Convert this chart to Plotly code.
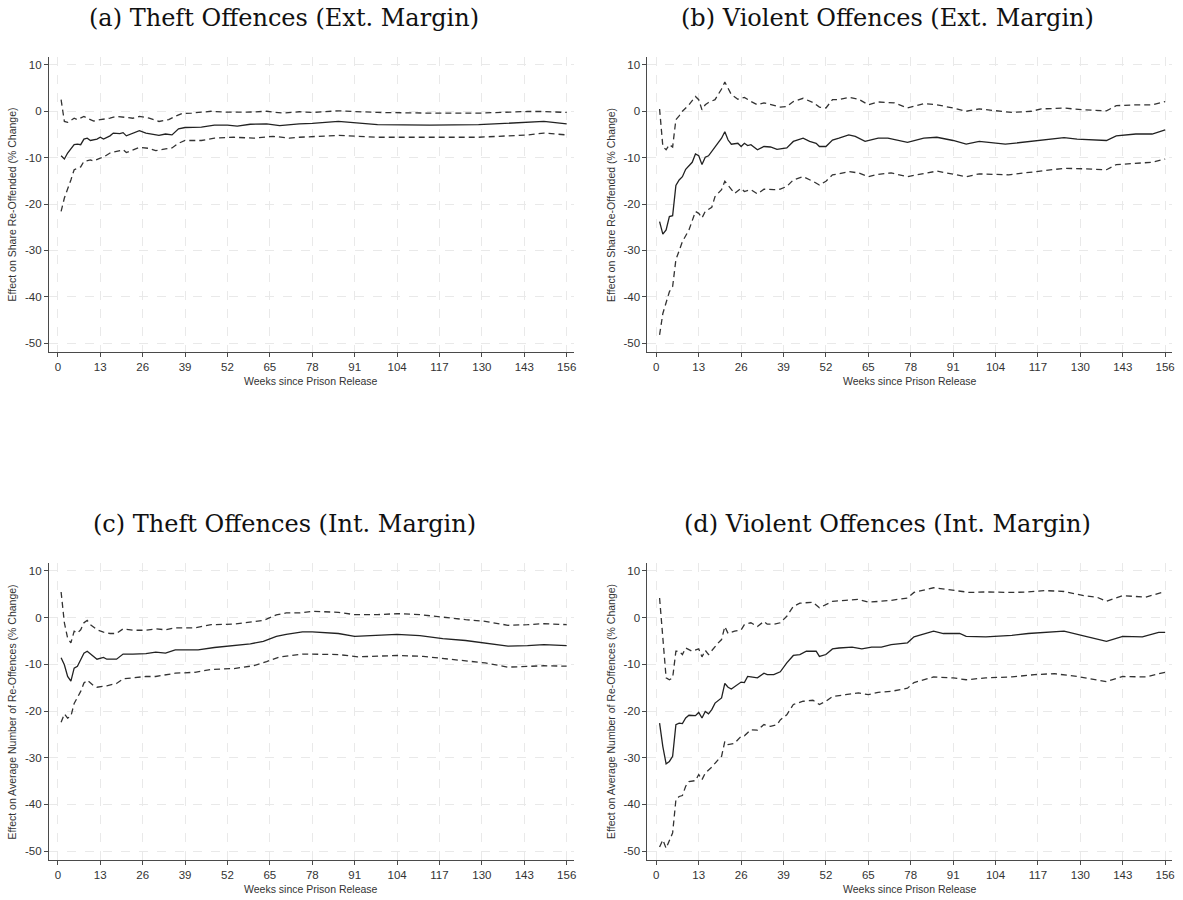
import plotly.graph_objects as go

# ---------------- data ----------------
x_ticks = [0, 13, 26, 39, 52, 65, 78, 91, 104, 117, 130, 143, 156]
y_ticks = [-50, -40, -30, -20, -10, 0, 10]

titles = ["(a) Theft Offences (Ext. Margin)", "(b) Violent Offences (Ext. Margin)",
          "(c) Theft Offences (Int. Margin)", "(d) Violent Offences (Int. Margin)"]
y_titles = ["Effect on Share Re-Offended (% Change)", "Effect on Share Re-Offended (% Change)",
            "Effect on Average Number of Re-Offences (% Change)", "Effect on Average Number of Re-Offences (% Change)"]
x_title = "Weeks since Prison Release"

# Panel (a)
a_mid_w = [1,2,3,5,6,7,8,9,10,12,13,14,16,17,19,20,21,23,25,27,31,33,35,37,39,44,48,52,55,59,64,68,74,78,86,98,114,129,141,149,156]
a_mid_v = [-9.6,-10.3,-9.0,-7.2,-7.1,-7.2,-6.0,-5.8,-6.3,-6.0,-5.6,-6.0,-5.3,-4.7,-4.8,-4.6,-5.3,-4.7,-4.2,-4.7,-5.2,-4.9,-5.1,-3.8,-3.5,-3.4,-3.0,-3.0,-3.2,-2.8,-2.7,-3.1,-2.7,-2.6,-2.2,-2.9,-3.0,-2.9,-2.55,-2.2,-2.7]
a_hi_w = [1,2,3,5,6,8,9,11,13,16,18,20,23,25,28,31,34,36,38,41,47,52,58,64,69,74,78,86,98,114,129,144,149,156]
a_hi_v = [2.5,-2.2,-2.4,-1.5,-1.8,-1.1,-1.5,-2.1,-1.8,-1.5,-1.1,-1.3,-1.5,-1.1,-1.5,-2.2,-1.8,-1.1,-0.5,-0.4,0.0,-0.2,-0.2,0.0,-0.4,-0.1,-0.26,0.1,-0.26,-0.4,-0.4,-0.05,-0.05,-0.26]
a_lo_w = [1,2,4,5,7,8,10,11,13,14,16,18,20,21,23,25,28,30,33,35,37,39,44,48,54,60,66,71,74,86,98,114,129,144,149,156]
a_lo_v = [-21.6,-18.7,-14.8,-12.6,-12.0,-10.8,-10.5,-10.7,-10.1,-9.9,-9.0,-8.7,-8.3,-8.9,-8.3,-7.8,-8.0,-8.5,-8.1,-7.9,-6.9,-6.3,-6.3,-5.8,-5.6,-5.8,-5.4,-5.8,-5.6,-5.2,-5.6,-5.6,-5.6,-5.1,-4.7,-5.1]

# Panel (b)
b_mid_w = [1,2,3,4,5,6,7,8,9,11,12,13,14,15,16,17,19,20,21,22,23,25,26,27,28,29,31,33,35,37,40,42,45,47,49,50,52,54,56,59,61,64,68,71,77,82,86,91,95,99,107,115,121,125,129,138,141,147,152,156]
b_mid_v = [-23.8,-26.5,-25.6,-22.7,-22.5,-16.0,-14.8,-14.1,-12.5,-11.0,-9.2,-9.6,-11.5,-9.9,-9.6,-8.7,-6.7,-5.8,-4.4,-6.2,-7.1,-6.9,-7.6,-6.9,-7.4,-7.2,-8.3,-7.6,-7.7,-8.2,-7.9,-6.5,-5.8,-6.5,-6.9,-7.6,-7.6,-6.2,-5.8,-5.1,-5.4,-6.5,-5.8,-5.8,-6.7,-5.8,-5.6,-6.3,-7.1,-6.5,-7.1,-6.5,-6.0,-5.7,-6.0,-6.3,-5.3,-4.9,-4.9,-4.0]
b_hi_w = [1,2,3,4,5,6,7,8,10,12,13,14,15,16,18,20,21,23,25,27,29,31,33,35,38,40,42,45,48,50,52,54,56,59,62,65,68,73,77,82,86,91,95,99,109,115,118,125,131,138,141,147,152,156]
b_hi_v = [0.5,-7.6,-8.3,-7.2,-7.7,-1.8,-1.0,0.0,1.4,3.2,2.5,0.3,1.4,1.9,2.5,4.8,6.3,3.6,2.6,3.0,2.1,1.4,1.8,1.4,0.9,1.0,2.1,2.8,1.9,0.9,0.7,2.5,2.5,3.0,2.6,1.4,2.0,1.8,0.7,1.65,1.4,0.7,0.0,0.5,-0.25,0.0,0.5,0.7,0.3,0.1,1.2,1.4,1.4,2.1]
b_lo_w = [1,2,4,5,6,7,8,10,11,12,13,14,15,17,18,20,21,23,24,26,27,29,31,33,36,38,40,42,45,48,50,52,54,56,59,62,65,68,72,77,86,95,99,108,115,118,125,131,138,141,152,156]
b_lo_v = [-48.2,-43.6,-38.9,-37.8,-32.0,-29.9,-28.1,-25.6,-23.4,-21.6,-22.0,-23.0,-21.6,-20.7,-18.4,-16.9,-15.1,-16.9,-17.7,-16.6,-17.3,-16.9,-17.8,-16.8,-16.9,-16.8,-16.2,-14.8,-14.1,-15.1,-15.9,-15.1,-13.7,-13.5,-13.0,-13.3,-14.1,-13.6,-13.3,-14.1,-12.9,-14.1,-13.5,-13.7,-13.1,-12.8,-12.3,-12.4,-12.6,-11.5,-11.0,-10.3]

# Panel (c)
c_mid_w = [1,2,3,4,5,6,7,8,9,11,12,14,15,18,20,23,27,30,33,36,39,43,48,54,59,63,67,70,75,78,86,91,98,104,111,118,125,131,138,144,149,156]
c_mid_v = [-8.6,-10.1,-12.6,-13.6,-10.8,-10.4,-9.0,-7.6,-7.2,-8.3,-8.9,-8.5,-8.9,-8.9,-7.8,-7.8,-7.7,-7.4,-7.6,-6.9,-6.9,-6.9,-6.4,-6.0,-5.6,-5.1,-4.0,-3.6,-3.07,-3.07,-3.4,-4.0,-3.86,-3.6,-3.86,-4.5,-4.9,-5.4,-6.1,-6.0,-5.8,-6.0]
c_hi_w = [1,2,3,4,5,6,7,8,9,10,12,14,16,18,20,23,27,30,33,36,42,47,54,59,63,67,70,74,78,86,91,98,104,111,118,125,131,138,144,149,156]
c_hi_v = [5.5,-1.1,-4.4,-5.4,-2.9,-3.3,-2.6,-1.1,-0.6,-1.5,-2.6,-3.1,-3.4,-3.4,-2.4,-2.7,-2.7,-2.4,-2.6,-2.2,-2.2,-1.5,-1.4,-0.9,-0.6,0.6,1.0,1.0,1.36,1.14,0.64,0.64,0.86,0.64,0.07,-0.43,-0.79,-1.64,-1.5,-1.3,-1.5]
c_lo_w = [1,2,3,4,5,6,7,8,9,11,12,15,18,20,23,27,30,33,36,42,47,54,60,64,68,75,86,92,98,104,112,119,125,131,138,144,149,156]
c_lo_v = [-22.4,-20.6,-21.5,-21.1,-18.4,-17.2,-15.8,-14.0,-13.4,-14.6,-14.9,-14.6,-14.1,-13.1,-12.9,-12.6,-12.6,-12.2,-11.9,-11.7,-11.1,-10.9,-10.3,-9.4,-8.4,-7.8,-7.9,-8.4,-8.3,-8.1,-8.3,-8.8,-9.2,-9.7,-10.6,-10.4,-10.3,-10.4]

# Panel (d)
d_mid_w = [1,2,3,4,5,6,7,8,9,10,12,13,14,15,16,17,18,20,21,22,23,25,26,27,28,29,31,33,34,36,38,40,42,44,46,49,50,52,54,56,60,63,66,69,72,77,79,85,88,93,95,101,109,114,119,125,131,138,143,149,154,156]
d_mid_v = [-22.6,-27.6,-31.3,-30.8,-29.7,-22.9,-22.6,-22.7,-21.5,-20.9,-21.0,-20.3,-21.5,-20.1,-20.6,-19.7,-18.3,-17.2,-14.1,-14.9,-15.3,-14.4,-13.8,-13.9,-12.6,-12.7,-12.9,-11.9,-12.2,-12.2,-11.6,-9.7,-8.1,-7.9,-7.2,-7.2,-8.3,-7.9,-6.7,-6.5,-6.3,-6.7,-6.3,-6.3,-5.8,-5.4,-4.1,-2.9,-3.4,-3.4,-4.0,-4.1,-3.8,-3.4,-3.1,-2.9,-3.9,-5.1,-4.0,-4.1,-3.15,-3.15]
d_hi_w = [1,2,3,4,5,6,7,8,9,11,13,14,15,16,17,19,20,21,22,24,26,27,29,31,33,34,36,38,40,42,44,48,50,52,54,58,62,65,68,72,77,79,85,88,93,96,101,109,114,119,125,131,135,138,143,150,155,156]
d_hi_v = [4.2,-4.0,-12.9,-13.3,-12.9,-7.2,-7.2,-7.9,-6.5,-7.2,-6.7,-8.4,-7.0,-7.9,-7.0,-5.4,-4.7,-1.9,-3.4,-2.9,-2.6,-1.5,-1.1,-1.9,-0.8,-1.4,-1.4,-1.1,0.3,2.4,3.1,3.3,2.1,2.8,3.5,3.7,3.9,3.3,3.5,3.7,4.2,5.4,6.4,6.1,5.6,5.4,5.5,5.4,5.5,5.8,5.6,4.7,4.4,3.5,4.7,4.4,5.4,5.4]
d_lo_w = [1,2,3,4,5,6,7,8,9,10,12,13,14,15,17,19,20,21,22,24,26,27,29,31,33,35,37,38,40,42,45,48,50,52,54,58,62,65,68,72,77,79,85,91,95,101,109,116,122,129,138,143,150,156]
d_lo_v = [-49.1,-47.6,-49.4,-47.6,-46.1,-39.0,-38.3,-38.1,-36.1,-35.1,-34.9,-33.6,-34.7,-33.3,-32.0,-30.4,-29.7,-26.5,-27.2,-26.9,-25.4,-25.3,-24.0,-24.1,-22.9,-23.3,-22.9,-21.9,-20.8,-18.6,-17.9,-17.7,-18.6,-17.9,-16.9,-16.5,-16.1,-16.5,-16.0,-15.8,-15.1,-13.9,-12.7,-12.9,-13.3,-12.9,-12.7,-12.2,-12.0,-12.6,-13.7,-12.6,-12.7,-11.7]

panels = [
    (a_mid_w, a_mid_v, a_hi_w, a_hi_v, a_lo_w, a_lo_v),
    (b_mid_w, b_mid_v, b_hi_w, b_hi_v, b_lo_w, b_lo_v),
    (c_mid_w, c_mid_v, c_hi_w, c_hi_v, c_lo_w, c_lo_v),
    (d_mid_w, d_mid_v, d_hi_w, d_hi_v, d_lo_w, d_lo_v),
]

# ---------------- layout geometry (page pixels) ----------------
W, H = 1183, 900
x_px = [(49, 575), (649, 1175), (49, 575), (649, 1175)]
y_px = [(57, 352), (57, 352), (563, 860), (563, 860)]
title_cx = [285, 890, 285, 890]
title_cy = [18, 18, 524, 524]


def px(v):
    return v / W


def py(v):
    return 1 - v / H


fig = go.Figure()
axis_color = "#4a4a4a"
grid_color = "#e9e9e9"
sans = "Liberation Sans, Arial, sans-serif"
tick_font = dict(family=sans, size=11.5, color="#333333")

for i, (mw, mv, hw, hv, lw, lv) in enumerate(panels):
    xa = "x" if i == 0 else f"x{i+1}"
    ya = "y" if i == 0 else f"y{i+1}"
    for (ww, vv, dash, col) in [(hw, hv, "6px,4px", "#333333"), (lw, lv, "6px,4px", "#333333"), (mw, mv, "solid", "#222222")]:
        fig.add_trace(go.Scatter(x=ww, y=vv, mode="lines", xaxis=xa, yaxis=ya,
                                 line=dict(color=col, width=1.3, dash=dash),
                                 showlegend=False, hoverinfo="skip"))
    x0, x1 = x_px[i]
    y0, y1 = y_px[i]
    xkey = "xaxis" if i == 0 else f"xaxis{i+1}"
    ykey = "yaxis" if i == 0 else f"yaxis{i+1}"
    fig.update_layout(**{
        xkey: dict(domain=[px(x0), px(x1)], anchor=ya, range=[-2.75, 158.1],
                   tickvals=x_ticks, ticktext=[str(t) for t in x_ticks],
                   showline=True, linecolor=axis_color, linewidth=1,
                   ticks="outside", ticklen=4, tickcolor=axis_color, tickfont=tick_font,
                   showgrid=True, gridcolor=grid_color, gridwidth=1, griddash="dash",
                   zeroline=False, fixedrange=True),
        ykey: dict(domain=[py(y1), py(y0)], anchor=xa, range=[-51.9, 11.7],
                   tickvals=y_ticks, ticktext=[str(t) for t in y_ticks],
                   showline=True, linecolor=axis_color, linewidth=1,
                   ticks="outside", ticklen=4, tickcolor=axis_color, tickfont=tick_font,
                   showgrid=True, gridcolor=grid_color, gridwidth=1, griddash="dash",
                   zeroline=False, fixedrange=True),
    })
    # panel title
    fig.add_annotation(text=titles[i], xref="paper", yref="paper",
                       x=px(title_cx[i]), y=py(title_cy[i]), xanchor="center", yanchor="middle",
                       showarrow=False, font=dict(family="DejaVu Serif, Liberation Serif, serif", size=24, color="#111111"))
    # y axis title
    fig.add_annotation(text=y_titles[i], xref="paper", yref="paper",
                       x=px(x0 - 37), y=py((y0 + y1) / 2), xanchor="center", yanchor="middle",
                       textangle=-90, showarrow=False,
                       font=dict(family=sans, size=10.5, color="#333333"))
    # x axis title
    fig.add_annotation(text=x_title, xref="paper", yref="paper",
                       x=px((x0 + x1) / 2), y=py(y1 + 29), xanchor="center", yanchor="middle",
                       showarrow=False,
                       font=dict(family=sans, size=10.5, color="#333333"))

fig.update_layout(width=W, height=H, margin=dict(l=0, r=0, t=0, b=0),
                  paper_bgcolor="white", plot_bgcolor="white", showlegend=False)

fig.write_html("out.html", config={"displayModeBar": False},
               post_script="document.body.style.margin='0';")
